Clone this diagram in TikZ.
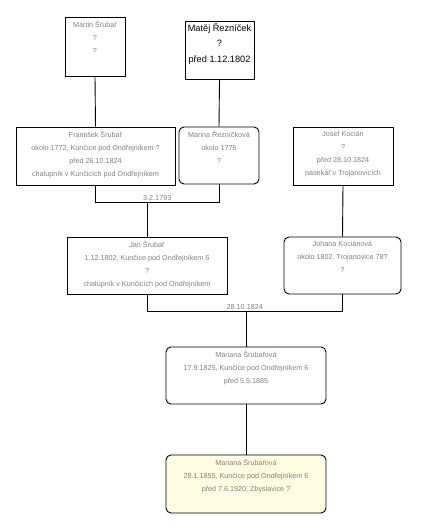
\documentclass[tikz,border=0pt]{standalone}
\usepackage{fontspec}
\setmainfont{Liberation Sans}
\usepackage{xcolor}
\usepackage{tikz}
\usetikzlibrary{calc, positioning}

\definecolor{cream}{HTML}{FFFDE1}
\definecolor{grtext}{HTML}{808080}

\tikzset{
  box/.style={draw, line width=0.9pt, inner sep=0pt},
  oval/.style={box, rounded corners=5pt},
  txt/.style={font=\fontsize{7.2}{13.2}\selectfont, text=grtext, align=center, inner sep=0pt, anchor=north, yshift=-4pt},
  big/.style={font=\fontsize{9.2}{15.5}\selectfont, text=black, align=center, inner sep=0pt, anchor=north, yshift=-2.5pt},
  line/.style={line width=0.9pt},
  date/.style={font=\fontsize{7.2}{8}\selectfont, text=grtext, inner sep=0pt, anchor=south},
}

\begin{document}
\begin{tikzpicture}[x=1pt, y=-1pt]
  \fill[white] (0,0) rectangle (444,529);
  \useasboundingbox (0,0) rectangle (444,529);

  % generation 1
  \node[box, minimum width=60pt, minimum height=59pt] (martin) at (95,46.5) {};
  \node[txt] at (martin.north) {Martin Šrubař\\?\\?};
  \node[box, minimum width=69pt, minimum height=58pt] (matej) at (219.5,50) {};
  \node[big] at (matej.north) {Matěj Řezníček\\?\\před 1.12.1802};

  % generation 2
  \node[box, minimum width=159pt, minimum height=58pt] (frantisek) at (95.5,156) {};
  \node[txt] at (frantisek.north) {František Šrubař\\okolo 1772, Kunčice pod Ondřejníkem ?\\před 26.10.1824\\chalupník v Kunčicích pod Ondřejníkem};
  \node[oval, minimum width=80pt, minimum height=57pt] (marina) at (219,155.5) {};
  \node[txt] at (marina.north) {Marina Řezníčková\\okolo 1775\\?};
  \node[box, minimum width=100pt, minimum height=58pt] (josef) at (343,156) {};
  \node[txt] at (josef.north) {Josef Kocián\\?\\před 28.10.1824\\pasekář v Trojanovicích};

  % generation 3
  \node[box, minimum width=160pt, minimum height=57pt] (jan) at (147,265.5) {};
  \node[txt] at (jan.north) {Jan Šrubař\\1.12.1802, Kunčice pod Ondřejníkem 6\\?\\chalupník v Kunčicích pod Ondřejníkem};
  \node[oval, minimum width=117pt, minimum height=57pt] (johana) at (342.5,265.5) {};
  \node[txt] at (johana.north) {Johana Kociánová\\okolo 1802, Trojanovice 78?\\?};

  % generation 4 and 5
  \node[oval, minimum width=160pt, minimum height=57pt] (mariana) at (246,375.5) {};
  \node[txt] at (mariana.north) {Mariana Šrubařová\\17.9.1825, Kunčice pod Ondřejníkem 6\\před 5.5.1885};
  \node[oval, fill=cream, minimum width=160pt, minimum height=58pt] (marianaB) at (246,484) {};
  \node[txt] at (marianaB.north) {Mariana Šrubařová\\28.1.1855, Kunčice pod Ondřejníkem 6\\před 7.6.1920, Zbyslavice ?};

  % parents
  \draw[line] (martin.south) -- (frantisek.north);
  \draw[line] (matej.south) -- (marina.north);
  \draw[line] (josef.south) -- (johana.north);

  % marriages
  \coordinate (m1a) at ($(frantisek.south)+(0,17)$);
  \coordinate (m1b) at (marina.south |- m1a);
  \draw[line] (frantisek.south) -- (m1a) -- (m1b) -- (marina.south);
  \node[date] (d1) at ($(m1a)!0.5!(m1b)+(0,-2)$) {3.2.1793};
  \draw[line] (jan.north |- m1a) -- (jan.north);

  \coordinate (m2a) at ($(jan.south)+(0,17)$);
  \coordinate (m2b) at (johana.south |- m2a);
  \draw[line] (jan.south) -- (m2a) -- (m2b) -- (johana.south);
  \node[date] (d2) at ($(m2a)!0.5!(m2b)+(0,-2)$) {28.10.1824};
  \draw[line] (mariana.north |- m2a) -- (mariana.north);

  \draw[line] (mariana.south) -- (marianaB.north);
\end{tikzpicture}
\end{document}
